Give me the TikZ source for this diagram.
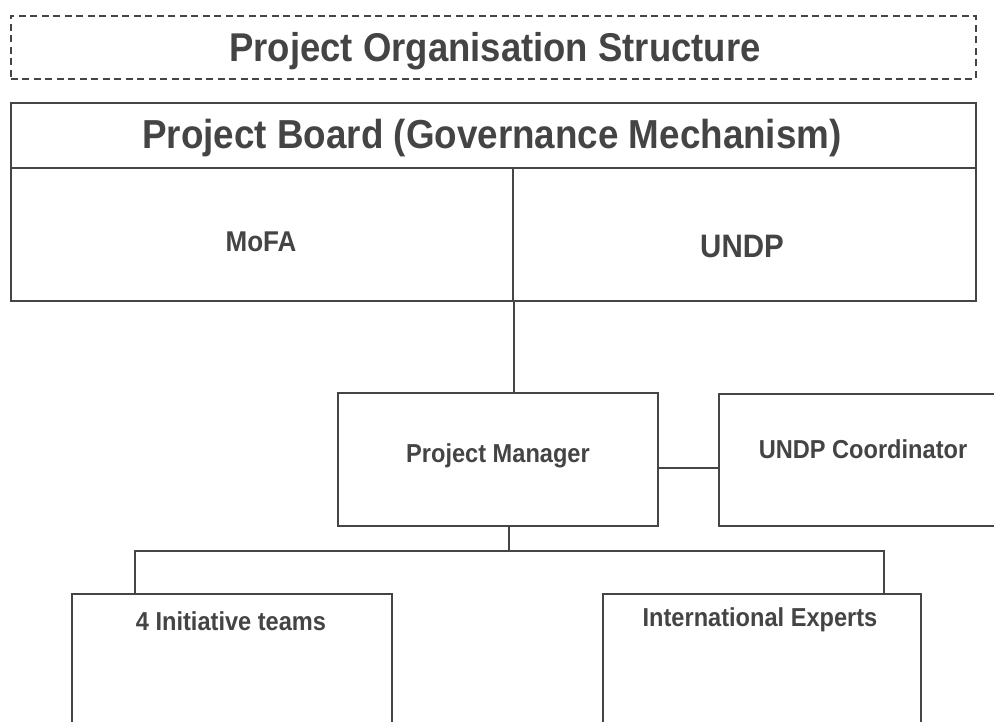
\documentclass[tikz,border=0pt]{standalone}
\usepackage{fontspec}
\setmainfont{Liberation Sans}
\usetikzlibrary{calc}
\definecolor{ink}{HTML}{444444}
\definecolor{edge}{HTML}{454545}
\newcommand{\tall}[1]{\scalebox{1}[1.1]{#1}}
\tikzset{
  box/.style={draw=edge, line width=2pt, rectangle, inner sep=0pt, anchor=north west},
  lbl/.style={text=ink, font=\bfseries, inner sep=0pt},
  link/.style={draw=edge, line width=1.6pt},
}
\begin{document}
\begin{tikzpicture}[x=1pt, y=-1pt]
\useasboundingbox (0,0) rectangle (994,721);
\clip (0,0) rectangle (994,721);
\fill[white] (0,0) rectangle (994,721);

% heading frame
\node[box, dashed, dash pattern=on 7pt off 4.5pt, line width=1.6pt,
      minimum width=965pt, minimum height=63pt] (frame) at (10,15) {};
\node[lbl, font=\bfseries\fontsize{36.5}{40}\selectfont] (title) at (495,51) {\tall{Project Organisation Structure}};

% project board
\node[box, minimum width=965pt, minimum height=65pt] (board) at (10,102) {};
\node[lbl, font=\bfseries\fontsize{36.8}{40}\selectfont] (boardtxt) at (492,138) {\tall{Project Board (Governance Mechanism)}};
\node[box, minimum width=502pt, minimum height=133pt] (mofa) at (10,167) {};
\node[box, minimum width=463pt, minimum height=133pt] (undp) at (512,167) {};
\node[lbl, font=\bfseries\fontsize{26}{30}\selectfont] (mofatxt) at (261,242) {\tall{MoFA}};
\node[lbl, font=\bfseries\fontsize{29.5}{32}\selectfont] (undptxt) at (742,246) {\tall{UNDP}};

% management level
\node[box, minimum width=320pt, minimum height=133pt] (pm) at (337,392) {};
\node[lbl, font=\bfseries\fontsize{23.6}{26}\selectfont] (pmtxt) at (498,456) {\tall{Project Manager}};
\node[box, minimum width=290pt, minimum height=132pt] (coord) at (718,393) {};
\node[lbl, font=\bfseries\fontsize{23.6}{26}\selectfont] (coordtxt) at (863,449) {\tall{UNDP Coordinator}};

% delivery level
\node[box, minimum width=320pt, minimum height=140pt] (teams) at (71,593) {};
\node[lbl, font=\bfseries\fontsize{23.6}{26}\selectfont] (teamstxt) at (231,621) {\tall{4 Initiative teams}};
\node[box, minimum width=318pt, minimum height=140pt] (experts) at (602,593) {};
\node[lbl, font=\bfseries\fontsize{23.6}{26}\selectfont] (expertstxt) at (760,620) {\tall{International Experts}};

% connectors
\draw[link] (mofa.south east) -- (mofa.south east |- pm.north);
\draw[link] ([yshift=-8.5pt]pm.east) -- ([yshift=-8.5pt]pm.east -| coord.west);
\coordinate (busL) at (135,551);
\coordinate (busR) at (884,551);
\draw[link] ([xshift=11pt]pm.south) -- ([xshift=11pt]pm.south |- busL);
\draw[link] (busL |- teams.north) -- (busL) -- (busR) -- (busR |- experts.north);
\end{tikzpicture}
\end{document}
